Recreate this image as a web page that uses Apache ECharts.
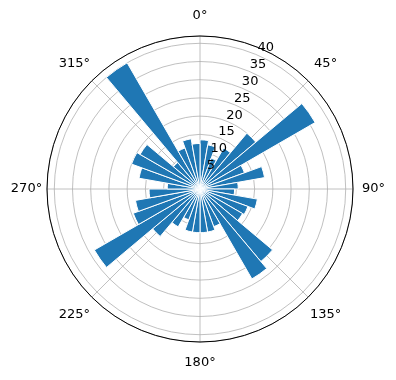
<!DOCTYPE html>
<html lang="en">
<head>
    <meta charset="UTF-8">
    <title>polar bar</title>
    <script src="https://cdn.jsdelivr.net/npm/echarts@6/dist/echarts.min.js"></script>
    <style type="text/css">
    body { margin:0; background:#fff; }
    #chart { width:396px; height:380px; }
    </style>
</head>
<body>
<div id="chart"></div>
<script type="text/javascript">
    // bin centres, degrees clockwise from north
    var bins = [5, 15, 25, 35, 45, 55, 65, 75, 85, 95, 105, 115, 125, 135, 145, 155, 165, 175,
                185, 195, 205, 215, 225, 235, 245, 255, 265, 275, 285, 295, 305, 315, 325, 335, 345, 355];
    var counts = [13.5, 12.3, 9, 13, 20, 36.5, 13, 18, 10.5, 9.5, 16, 14, 13.5, 26, 28.5, 11, 12, 12,
                  12, 12, 9, 12, 17, 33.5, 19.5, 18, 14, 9, 17, 20, 19, 9.5, 40, 12, 14, 12.5];
    var angleTicks = [0, 45, 90, 135, 180, 225, 270, 315];
    var radiusTicks = [5, 10, 15, 20, 25, 30, 35, 40];
    var rMax = 42;

    var font = 'DejaVu Sans';
    var ctr = [200, 189];
    var rad = 153;

    var myChart = echarts.init(document.getElementById('chart'));
    option = {
      animation: false,
      polar: [
        { center: ctr, radius: rad },
        { center: ctr, radius: rad },
        { center: ctr, radius: 163.3 }   // only for the r tick labels
      ],
      angleAxis: [
        {
          polarIndex: 0, type: 'category', data: bins, startAngle: 90, clockwise: true,
          axisLine: { show: false }, axisTick: { show: false }, axisLabel: { show: false },
          splitLine: { show: false }
        },
        {
          polarIndex: 1, type: 'value', min: 0, max: 360, interval: 45, startAngle: 90, clockwise: true,
          axisLine: { show: true, lineStyle: { color: '#000', width: 1 } },
          axisTick: { show: false },
          splitLine: { show: true, lineStyle: { color: '#b0b0b0', width: 0.8 } },
          axisLabel: {
            margin: 10.5, color: '#000', fontFamily: font, fontSize: 13,
            width: 20, lineHeight: 20,
            formatter: function (v) { return angleTicks.indexOf(v) >= 0 ? '{a|' + v + '°}' : ''; },
            rich: {
              a: { align: 'center', verticalAlign: 'middle', lineHeight: 20, fontFamily: font, fontSize: 13, color: '#000' }
            }
          },
          z: 1
        },
        {
          polarIndex: 2, type: 'value', min: 0, max: 360, startAngle: 65, clockwise: true,
          axisLine: { show: false }, axisTick: { show: false }, axisLabel: { show: false },
          splitLine: { show: false }
        }
      ],
      radiusAxis: [
        {
          polarIndex: 0, type: 'value', min: 0, max: rMax, interval: 5,
          axisLine: { show: false }, axisTick: { show: false }, axisLabel: { show: false },
          splitLine: { show: false }
        },
        {
          polarIndex: 1, type: 'value', min: 0, max: rMax, interval: 5,
          axisLine: { show: false }, axisTick: { show: false }, axisLabel: { show: false },
          splitLine: {
            show: true,
            lineStyle: {
              width: 0.8,
              color: '#b0b0b0'
            }
          },
          z: 1
        },
        {
          polarIndex: 2, type: 'value', min: -1.88, max: rMax,
          axisLine: { show: false }, axisTick: { show: false }, splitLine: { show: false },
          axisLabel: {
            show: true, margin: 0, color: '#000', fontFamily: font, fontSize: 13,
            align: 'center', verticalAlign: 'middle',
            customValues: radiusTicks
          },
          z: 5
        }
      ],
      series: [
        {
          type: 'bar',
          coordinateSystem: 'polar',
          polarIndex: 0,
          data: counts,
          barCategoryGap: '0%',
          itemStyle: {
            color: '#1f77b4',
            borderColor: '#ffffff',
            borderWidth: 1
          },
          z: 3
        }
      ]
    };
    myChart.setOption(option);
</script>
</body>
</html>
